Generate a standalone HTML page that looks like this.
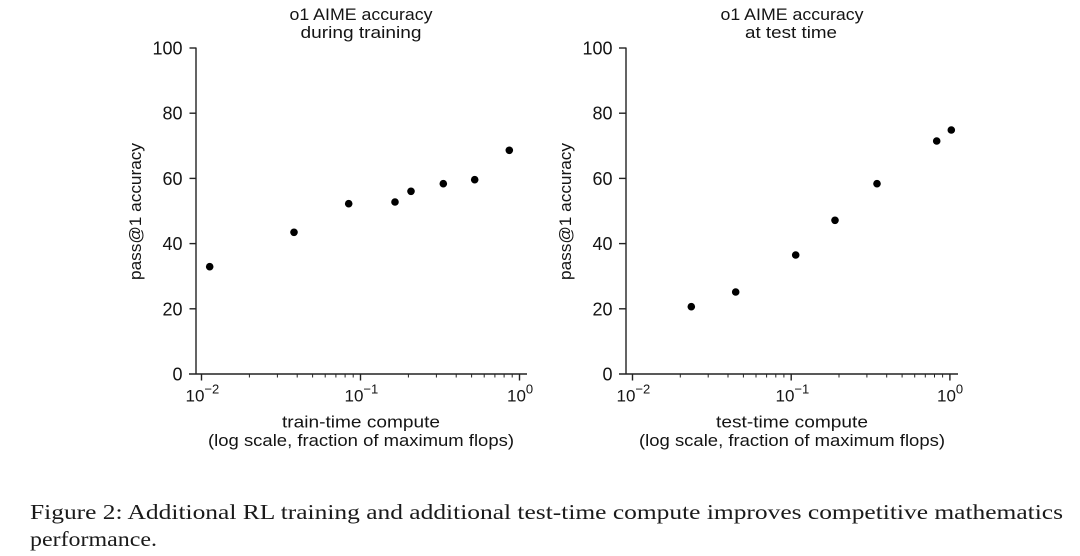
<!DOCTYPE html>
<html><head><meta charset="utf-8"><style>
html,body{margin:0;padding:0;background:#fff;}
svg{display:block;}
.s{font-family:"Liberation Sans",sans-serif;fill:#141414;}
.c{font-family:"Liberation Serif",serif;fill:#1a1a1a;}
</style></head><body>
<svg width="1080" height="556" viewBox="0 0 1080 556" xmlns="http://www.w3.org/2000/svg">
<rect width="1080" height="556" fill="#fff"/>
<!-- LEFT PLOT -->
<g class="s" font-size="17" text-anchor="middle">
<text x="361" y="20" textLength="143" lengthAdjust="spacingAndGlyphs">o1 AIME accuracy</text>
<text x="361" y="38" textLength="121" lengthAdjust="spacingAndGlyphs">during training</text>
</g>
<g stroke="#222" stroke-width="1.4" fill="none">
<line x1="196" y1="47.5" x2="196" y2="374.5"/>
<line x1="189" y1="374" x2="527" y2="374"/>
<line x1="189.5" y1="48" x2="196" y2="48"/>
<line x1="189.5" y1="113.2" x2="196" y2="113.2"/>
<line x1="189.5" y1="178.4" x2="196" y2="178.4"/>
<line x1="189.5" y1="243.6" x2="196" y2="243.6"/>
<line x1="189.5" y1="308.8" x2="196" y2="308.8"/>
<line x1="201.5" y1="374" x2="201.5" y2="380.5"/>
<line x1="360.5" y1="374" x2="360.5" y2="380.5"/>
<line x1="519.5" y1="374" x2="519.5" y2="380.5"/>
</g>
<g stroke="#222" stroke-width="1">
<line x1="249.4" y1="374" x2="249.4" y2="377.5"/><line x1="277.4" y1="374" x2="277.4" y2="377.5"/>
<line x1="297.2" y1="374" x2="297.2" y2="377.5"/><line x1="312.6" y1="374" x2="312.6" y2="377.5"/>
<line x1="325.2" y1="374" x2="325.2" y2="377.5"/><line x1="335.9" y1="374" x2="335.9" y2="377.5"/>
<line x1="345.1" y1="374" x2="345.1" y2="377.5"/><line x1="353.2" y1="374" x2="353.2" y2="377.5"/>
<line x1="408.4" y1="374" x2="408.4" y2="377.5"/><line x1="436.4" y1="374" x2="436.4" y2="377.5"/>
<line x1="456.2" y1="374" x2="456.2" y2="377.5"/><line x1="471.6" y1="374" x2="471.6" y2="377.5"/>
<line x1="484.2" y1="374" x2="484.2" y2="377.5"/><line x1="494.9" y1="374" x2="494.9" y2="377.5"/>
<line x1="504.1" y1="374" x2="504.1" y2="377.5"/><line x1="512.2" y1="374" x2="512.2" y2="377.5"/>
</g>
<g class="s" font-size="18" text-anchor="end">
<text x="182.5" y="54.5">100</text>
<text x="182.5" y="119.7">80</text>
<text x="182.5" y="184.9">60</text>
<text x="182.5" y="250.1">40</text>
<text x="182.5" y="315.3">20</text>
<text x="182.5" y="380.5">0</text>
</g>
<g class="s" font-size="17">
<text x="185.5" y="401.5">10<tspan font-size="13" dy="-8">−2</tspan></text>
<text x="344.5" y="401.5">10<tspan font-size="13" dy="-8">−1</tspan></text>
<text x="507" y="401.5">10<tspan font-size="13" dy="-8">0</tspan></text>
</g>
<g class="s" font-size="17" text-anchor="middle">
<text x="361" y="427.5" textLength="158" lengthAdjust="spacingAndGlyphs">train-time compute</text>
<text x="361" y="446" textLength="306" lengthAdjust="spacingAndGlyphs">(log scale, fraction of maximum flops)</text>
</g>
<text class="s" font-size="17" text-anchor="middle" transform="translate(141,211.5) rotate(-90)" textLength="137" lengthAdjust="spacingAndGlyphs">pass@1 accuracy</text>
<g fill="#000">
<circle cx="209.7" cy="266.7" r="3.8"/>
<circle cx="294" cy="232.3" r="3.8"/>
<circle cx="348.7" cy="203.7" r="3.8"/>
<circle cx="395" cy="202" r="3.8"/>
<circle cx="411" cy="191.3" r="3.8"/>
<circle cx="443.3" cy="183.7" r="3.8"/>
<circle cx="474.7" cy="179.7" r="3.8"/>
<circle cx="509.3" cy="150.3" r="3.8"/>
</g>

<!-- RIGHT PLOT -->
<g class="s" font-size="17" text-anchor="middle">
<text x="792" y="20" textLength="143" lengthAdjust="spacingAndGlyphs">o1 AIME accuracy</text>
<text x="791" y="38" textLength="92" lengthAdjust="spacingAndGlyphs">at test time</text>
</g>
<g stroke="#222" stroke-width="1.4" fill="none">
<line x1="626" y1="47.5" x2="626" y2="374.5"/>
<line x1="619" y1="374" x2="958" y2="374"/>
<line x1="619" y1="48" x2="626" y2="48"/>
<line x1="619" y1="113.2" x2="626" y2="113.2"/>
<line x1="619" y1="178.4" x2="626" y2="178.4"/>
<line x1="619" y1="243.6" x2="626" y2="243.6"/>
<line x1="619" y1="308.8" x2="626" y2="308.8"/>
<line x1="632.5" y1="374" x2="632.5" y2="380.5"/>
<line x1="791.2" y1="374" x2="791.2" y2="380.5"/>
<line x1="949.9" y1="374" x2="949.9" y2="380.5"/>
</g>
<g stroke="#222" stroke-width="1">
<line x1="680.3" y1="374" x2="680.3" y2="377.5"/><line x1="708.2" y1="374" x2="708.2" y2="377.5"/>
<line x1="728" y1="374" x2="728" y2="377.5"/><line x1="743.4" y1="374" x2="743.4" y2="377.5"/>
<line x1="756" y1="374" x2="756" y2="377.5"/><line x1="766.6" y1="374" x2="766.6" y2="377.5"/>
<line x1="775.8" y1="374" x2="775.8" y2="377.5"/><line x1="783.9" y1="374" x2="783.9" y2="377.5"/>
<line x1="839" y1="374" x2="839" y2="377.5"/><line x1="866.9" y1="374" x2="866.9" y2="377.5"/>
<line x1="886.7" y1="374" x2="886.7" y2="377.5"/><line x1="902.1" y1="374" x2="902.1" y2="377.5"/>
<line x1="914.7" y1="374" x2="914.7" y2="377.5"/><line x1="925.3" y1="374" x2="925.3" y2="377.5"/>
<line x1="934.5" y1="374" x2="934.5" y2="377.5"/><line x1="942.6" y1="374" x2="942.6" y2="377.5"/>
</g>
<g class="s" font-size="18" text-anchor="end">
<text x="612.5" y="54.5">100</text>
<text x="612.5" y="119.7">80</text>
<text x="612.5" y="184.9">60</text>
<text x="612.5" y="250.1">40</text>
<text x="612.5" y="315.3">20</text>
<text x="612.5" y="380.5">0</text>
</g>
<g class="s" font-size="17">
<text x="616.5" y="401.5">10<tspan font-size="13" dy="-8">−2</tspan></text>
<text x="775.5" y="401.5">10<tspan font-size="13" dy="-8">−1</tspan></text>
<text x="937" y="401.5">10<tspan font-size="13" dy="-8">0</tspan></text>
</g>
<g class="s" font-size="17" text-anchor="middle">
<text x="792" y="427.5" textLength="152" lengthAdjust="spacingAndGlyphs">test-time compute</text>
<text x="792" y="446" textLength="306" lengthAdjust="spacingAndGlyphs">(log scale, fraction of maximum flops)</text>
</g>
<text class="s" font-size="17" text-anchor="middle" transform="translate(571,211.5) rotate(-90)" textLength="137" lengthAdjust="spacingAndGlyphs">pass@1 accuracy</text>
<g fill="#000">
<circle cx="691.3" cy="306.7" r="3.8"/>
<circle cx="735.7" cy="292" r="3.8"/>
<circle cx="795.7" cy="255" r="3.8"/>
<circle cx="835" cy="220.3" r="3.8"/>
<circle cx="877" cy="183.7" r="3.8"/>
<circle cx="936.7" cy="141" r="3.8"/>
<circle cx="951.3" cy="130" r="3.8"/>
</g>

<!-- CAPTION -->
<text class="c" font-size="21" x="30" y="519" textLength="1033" lengthAdjust="spacingAndGlyphs">Figure 2: Additional RL training and additional test-time compute improves competitive mathematics</text>
<text class="c" font-size="21" x="30" y="546" textLength="127" lengthAdjust="spacingAndGlyphs">performance.</text>
</svg>
</body></html>
